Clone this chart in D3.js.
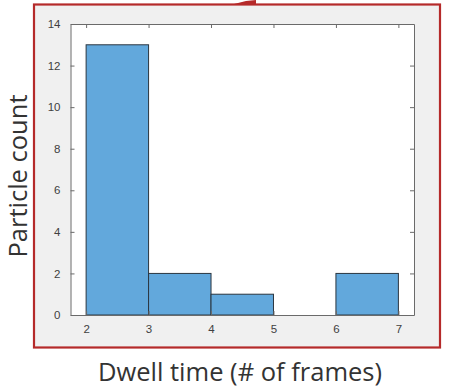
<!DOCTYPE html>
<html>
<head>
<meta charset="utf-8">
<script src="https://cdn.jsdelivr.net/npm/d3@7"></script>
<style>
  html, body { margin: 0; padding: 0; background: #ffffff; }
  svg { display: block; }
</style>
</head>
<body>
<svg id="chart" width="449" height="389"></svg>
<script>
// Histogram bins (dwell time in frames) and particle counts
const binEdges = [[2, 3], [3, 4], [4, 5], [5, 6], [6, 7]];
const counts = [13, 2, 1, 0, 2];
const xTicks = [2, 3, 4, 5, 6, 7];
const yTicks = [0, 2, 4, 6, 8, 10, 12, 14];
const xTitle = "Dwell time (# of frames)";
const yTitle = "Particle count";

const svg = d3.select("#chart");

// Outer panel with red border
svg.append("rect")
  .attr("x", 34).attr("y", 4.5)
  .attr("width", 406).attr("height", 343)
  .attr("fill", "#f0f0f0")
  .attr("stroke", "#b52a2a")
  .attr("stroke-width", 2.2);

// small red mark at the top edge
svg.append("path")
  .attr("d", "M234,4 L240,2.5 L246,1 L256,0 L256,4 Z")
  .attr("fill", "#b52a2a");

const plot = { left: 70.5, top: 24, right: 414, bottom: 315 };

const x = d3.scaleLinear().domain([1.75, 7.25]).range([plot.left, plot.right]);
const y = d3.scaleLinear().domain([0, 14]).range([plot.bottom, plot.top]);

// white axes area
svg.append("rect")
  .attr("x", plot.left).attr("y", plot.top)
  .attr("width", plot.right - plot.left).attr("height", plot.bottom - plot.top)
  .attr("fill", "#ffffff");

// bars
const bins = binEdges.map((e, i) => ({ x0: e[0], x1: e[1], n: counts[i] }));
svg.append("g").selectAll("rect")
  .data(bins.filter(d => d.n > 0))
  .join("rect")
  .attr("x", d => x(d.x0))
  .attr("y", d => y(d.n))
  .attr("width", d => x(d.x1) - x(d.x0))
  .attr("height", d => y(0) - y(d.n))
  .attr("fill", "#62a8dc")
  .attr("stroke", "#2b3640")
  .attr("stroke-width", 1);

const axisColor = "#6a6a6a";
const tickFont = "Helvetica, 'Liberation Sans', Arial, sans-serif";
const fmt = d3.format("d");

function styleAxis(g, showLabels) {
  g.select(".domain").attr("stroke", axisColor).attr("stroke-width", 1);
  g.selectAll(".tick line").attr("stroke", axisColor);
  g.selectAll(".tick text")
    .attr("fill", "#404040")
    .style("font-family", tickFont)
    .style("font-size", "11.5px");
  if (!showLabels) g.selectAll(".tick text").remove();
}

// bottom axis (ticks inward)
svg.append("g")
  .attr("transform", `translate(0,${plot.bottom})`)
  .call(d3.axisBottom(x).tickValues(xTicks).tickFormat(fmt).tickSizeInner(-4).tickSizeOuter(0).tickPadding(10))
  .call(g => styleAxis(g, true));

// top axis (ticks inward, no labels)
svg.append("g")
  .attr("transform", `translate(0,${plot.top})`)
  .call(d3.axisTop(x).tickValues(xTicks).tickSizeInner(-4).tickSizeOuter(0))
  .call(g => styleAxis(g, false));

// left axis
svg.append("g")
  .attr("transform", `translate(${plot.left},0)`)
  .call(d3.axisLeft(y).tickValues(yTicks).tickFormat(fmt).tickSizeInner(-4).tickSizeOuter(0).tickPadding(10))
  .call(g => styleAxis(g, true));

// right axis
svg.append("g")
  .attr("transform", `translate(${plot.right},0)`)
  .call(d3.axisRight(y).tickValues(yTicks).tickSizeInner(-4).tickSizeOuter(0))
  .call(g => styleAxis(g, false));

// axis titles
const titleFont = "'Open Sans', Lato, sans-serif";
svg.append("text")
  .attr("x", 240).attr("y", 381)
  .attr("text-anchor", "middle")
  .attr("fill", "#333333")
  .style("font-family", titleFont)
  .style("font-size", "25.5px")
  .text(xTitle);

svg.append("text")
  .attr("transform", "translate(27,176) rotate(-90)")
  .attr("text-anchor", "middle")
  .attr("fill", "#333333")
  .style("font-family", titleFont)
  .style("font-size", "25.5px")
  .text(yTitle);
</script>
</body>
</html>
